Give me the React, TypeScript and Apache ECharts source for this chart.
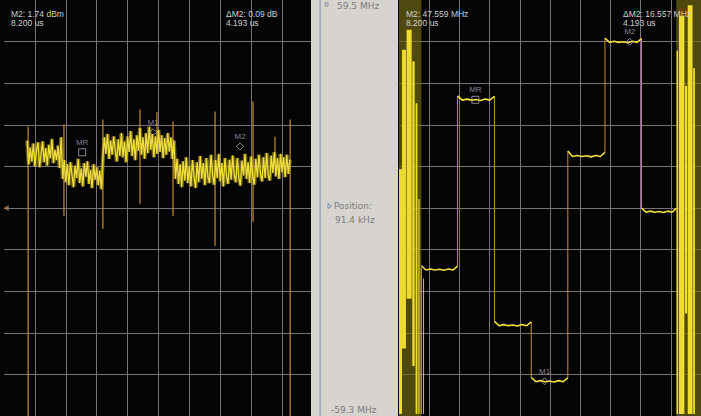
import React, { useEffect, useRef } from "react";
import * as echarts from "echarts";

// ---------- Left panel: power vs time (x and y in screen divisions) ----------
const leftTraceStart = 0.75;
const leftTraceStep = 0.05;
const leftTrace = [
  // hop A
  6.62, 6.05, 6.45, 6.12, 6.55, 6.00, 6.38, 6.58, 5.98, 6.30, 6.60, 6.10, 6.44, 6.02, 6.52, 6.20, 6.66, 6.08, 6.40, 6.15, 6.50, 5.96, 6.70,
  // hop B
  5.70, 6.15, 5.62, 6.05, 5.55, 6.10, 5.80, 5.50, 6.02, 5.72, 6.18, 5.60, 5.95, 5.52, 6.08, 5.75, 6.12, 5.58, 5.92, 5.48, 6.05, 5.68, 5.98, 5.55, 5.90, 5.45,
  // hops C
  6.20, 6.70, 6.30, 6.78, 6.18, 6.62, 6.28, 6.72, 6.40, 6.12, 6.65, 6.25, 6.80, 6.22, 6.60, 6.10, 6.72, 6.35, 6.85, 6.25, 6.65, 6.15, 6.75, 6.38, 6.92,
  6.28, 6.70, 6.18, 6.80, 6.32, 6.95, 6.40, 6.78, 6.22, 6.72, 6.30, 6.88, 6.35, 6.75, 6.20, 6.68, 6.28, 6.80, 6.36, 6.70, 6.18, 6.62,
  // hops D
  5.70, 6.18, 5.58, 6.05, 5.50, 6.12, 5.66, 6.22, 5.60, 6.00, 5.52, 6.15, 5.75, 5.48, 6.10, 5.62, 6.25, 5.70, 6.08, 5.55, 6.20, 5.74, 5.60, 6.28, 5.80,
  5.56, 6.15, 5.72, 6.30, 5.64, 6.08, 5.52, 6.20, 5.76, 5.58, 6.16, 5.68, 6.26, 5.80, 5.62, 6.20, 5.72, 5.54, 6.14, 5.78, 6.30, 5.70, 6.10, 5.60, 6.24,
  5.76, 5.56, 6.18, 5.74, 6.28, 5.82, 5.64, 6.22, 5.72, 6.32, 5.80, 5.66, 6.26, 5.84, 6.34, 5.76, 6.20, 5.70, 6.30, 5.86, 6.22, 5.74, 6.28, 5.82, 6.16,
];
// [x, top, bottom] in divisions
const leftSpikes: number[][] = [
  [0.78, 6.96, -0.3],
  [1.94, 7.01, 4.81],
  [3.2, 7.13, 4.5],
  [4.4, 7.37, 5.1],
  [4.95, 7.3, 6.41],
  [5.47, 7.08, 4.81],
  [6.83, 7.32, 4.09],
  [8.06, 7.56, 4.67],
  [8.77, 6.72, 6.05],
  [9.26, 7.13, -0.3],
];
const leftRefLevel = 5.0;

// ---------- Markers ----------
const markerNames = ["MR", "M1", "M2"];
const markerTimes = [2.53, 4.82, 7.64];
const leftMarkerLevels = [6.34, 6.82, 6.48];
const rightMarkerFreqs = [31.0, -49.4, 47.56];

// ---------- Right panel: frequency (MHz) vs time (divisions) ----------
const freqMin = -59.3;
const freqMax = 59.5;
const hopEdges = [0.74, 1.94, 3.16, 4.38, 5.59, 6.82, 8.03, 9.19];
const hopLevels: number[][] = [
  [-16.4, -17.6, -17.3, -17.6, -17.4, -17.7, -17.3, -17.6, -16.5],
  [32.1, 30.9, 31.2, 30.9, 31.1, 30.8, 31.2, 30.9, 32.0],
  [-32.3, -33.5, -33.2, -33.5, -33.3, -33.6, -33.2, -33.5, -32.4],
  [-48.3, -49.5, -49.2, -49.5, -49.3, -49.6, -49.2, -49.5, -48.4],
  [16.4, 14.8, 15.1, 14.8, 15.0, 14.7, 15.1, 14.8, 16.0],
  [48.6, 47.4, 47.7, 47.4, 47.6, 47.3, 47.7, 47.4, 48.5],
  [0.1, -1.1, -0.8, -1.1, -0.9, -1.2, -0.8, -1.1, 0.0],
];
// [x0, x1, top MHz, bottom MHz]
const burstDim: number[][] = [
  [0.0, 0.74, 59.5, -59.3],
  [9.18, 10, 59.5, -59.3],
];
const burstBright: number[][] = [
  [0.0, 0.1, 11.2, -58.7],
  [0.1, 0.23, 45.3, -40.0],
  [0.25, 0.42, 51.0, -25.8],
  [0.44, 0.52, 42.0, -45.0],
  [0.55, 0.61, 30.0, -58.7],
  [0.64, 0.68, 2.7, -58.7],
  [0.72, 0.75, -17.0, -58.7],
  [0.8, 0.83, -20.0, -58.7],
  [9.19, 9.24, 45.0, -58.7],
  [9.27, 9.45, 55.0, -58.7],
  [9.47, 9.54, 35.0, -30.0],
  [9.56, 9.72, 58.0, -58.7],
  [9.74, 9.8, 40.0, -58.7],
];

const GRID_COLOR = "#78717a";
const TRACE = "#efde3c";
const ORANGE = "#c88e2c";
const MARK_COLOR = "#aaa3b6";

function vSeg(color: string, width: number) {
  return (_p: any, api: any) => {
    const a = api.coord([api.value(0), api.value(1)]);
    const b = api.coord([api.value(0), api.value(2)]);
    return {
      type: "line",
      shape: { x1: a[0], y1: a[1], x2: b[0], y2: b[1] },
      style: { stroke: color, lineWidth: width },
    };
  };
}
function rectSeg(color: string) {
  return (_p: any, api: any) => {
    const a = api.coord([api.value(0), api.value(2)]);
    const b = api.coord([api.value(1), api.value(3)]);
    return {
      type: "rect",
      shape: { x: a[0], y: a[1], width: b[0] - a[0], height: b[1] - a[1] },
      style: { fill: color },
    };
  };
}

function buildOption() {
  const hidden = {
    axisLine: { show: false },
    axisTick: { show: false },
    axisLabel: { show: false },
  };
  const split = {
    show: true,
    showMinLine: false,
    showMaxLine: false,
    lineStyle: { color: GRID_COLOR, width: 1 },
  };
  const traceData = leftTrace.map((v, i) => [leftTraceStart + i * leftTraceStep, v]);

  const hopSeries = hopLevels.map((lv, h) => {
    const x0 = hopEdges[h];
    const x1 = hopEdges[h + 1];
    return {
      type: "line",
      xAxisIndex: 1,
      yAxisIndex: 1,
      showSymbol: false,
      symbol: "none",
      z: 4,
      lineStyle: { color: TRACE, width: 1.6 },
      data: lv.map((v, j) => [x0 + ((x1 - x0) * j) / (lv.length - 1), v]),
    };
  });
  const transitions: number[][] = [];
  for (let h = 0; h < hopLevels.length - 1; h++) {
    const a = hopLevels[h];
    const b = hopLevels[h + 1];
    transitions.push([hopEdges[h + 1], a[a.length - 1], b[0]]);
  }

  const textStyle = (text: string, size: number, fill: string, family: string) => ({
    text,
    fill,
    fontSize: size,
    fontFamily: family,
    verticalAlign: "middle",
  });
  const hdr = "Liberation Sans, Arial, sans-serif";
  const side = "DejaVu Sans, Verdana, sans-serif";
  const hdrColor = "#cfcfcf";
  const sideColor = "#7c7c82";

  return {
    animation: false,
    backgroundColor: "#040404",
    grid: [
      { left: 4, top: 0, width: 309, height: 418 },
      { left: 399, top: 0, width: 309, height: 418 },
    ],
    xAxis: [
      { type: "value", gridIndex: 0, min: 0, max: 10, interval: 1, ...hidden, splitLine: split },
      { type: "value", gridIndex: 1, min: 0, max: 10, interval: 1, ...hidden, splitLine: split },
    ],
    yAxis: [
      { type: "value", gridIndex: 0, min: 0, max: 10, interval: 1, ...hidden, splitLine: split },
      { type: "value", gridIndex: 1, min: freqMin, max: freqMax, ...hidden, splitLine: { show: false } },
      { type: "value", gridIndex: 1, min: 0, max: 10, interval: 1, ...hidden, splitLine: split },
    ],
    series: [
      {
        type: "custom",
        xAxisIndex: 0,
        yAxisIndex: 0,
        clip: true,
        z: 2,
        renderItem: vSeg(ORANGE, 1.2),
        encode: { x: 0, y: [1, 2] },
        data: leftSpikes,
      },
      {
        type: "line",
        xAxisIndex: 0,
        yAxisIndex: 0,
        showSymbol: false,
        symbol: "none",
        z: 3,
        lineStyle: { color: "rgba(190,165,35,0.55)", width: 4 },
        data: traceData,
      },
      {
        type: "line",
        xAxisIndex: 0,
        yAxisIndex: 0,
        showSymbol: false,
        symbol: "none",
        z: 4,
        lineStyle: { color: TRACE, width: 1.3 },
        data: traceData,
      },
      {
        type: "scatter",
        xAxisIndex: 0,
        yAxisIndex: 0,
        z: 6,
        symbol: "triangle",
        symbolRotate: 90,
        symbolSize: [6, 5],
        itemStyle: { color: "#a98450" },
        data: [[0.07, leftRefLevel]],
      },
      {
        type: "scatter",
        xAxisIndex: 0,
        yAxisIndex: 0,
        z: 7,
        symbolSize: 7,
        itemStyle: { color: "rgba(0,0,0,0)", borderColor: MARK_COLOR, borderWidth: 1 },
        label: { show: true, position: "top", distance: 2, formatter: "{b}", color: MARK_COLOR, fontSize: 8, fontFamily: hdr },
        data: markerNames.map((n, i) => ({
          name: n,
          value: [markerTimes[i], leftMarkerLevels[i]],
          symbol: n === "MR" ? "rect" : "diamond",
        })),
      },
      {
        type: "custom",
        xAxisIndex: 1,
        yAxisIndex: 1,
        clip: true,
        z: 1,
        renderItem: rectSeg("rgba(120,110,22,0.65)"),
        encode: { x: [0, 1], y: [2, 3] },
        data: burstDim,
      },
      {
        type: "custom",
        xAxisIndex: 1,
        yAxisIndex: 1,
        clip: true,
        z: 2,
        renderItem: rectSeg("#eedc30"),
        encode: { x: [0, 1], y: [2, 3] },
        data: burstBright,
      },
      {
        type: "custom",
        xAxisIndex: 1,
        yAxisIndex: 1,
        clip: true,
        z: 3,
        renderItem: vSeg(ORANGE, 1),
        encode: { x: 0, y: [1, 2] },
        data: transitions,
      },
      ...hopSeries,
      {
        type: "scatter",
        xAxisIndex: 1,
        yAxisIndex: 1,
        z: 7,
        symbolSize: 7,
        itemStyle: { color: "rgba(0,0,0,0)", borderColor: MARK_COLOR, borderWidth: 1 },
        label: { show: true, position: "top", distance: 2, formatter: "{b}", color: MARK_COLOR, fontSize: 8, fontFamily: hdr },
        data: markerNames.map((n, i) => ({
          name: n,
          value: [markerTimes[i], rightMarkerFreqs[i]],
          symbol: n === "MR" ? "rect" : "diamond",
        })),
      },
    ],
    graphic: [
      { type: "rect", z: 50, shape: { x: 311, y: 0, width: 87, height: 416 }, style: { fill: "#d7d3ce" } },
      { type: "rect", z: 51, shape: { x: 319.5, y: 0, width: 1.2, height: 416 }, style: { fill: "#8c9aae" } },
      { type: "rect", z: 52, shape: { x: 325, y: 3, width: 3, height: 3 }, style: { fill: "none", stroke: "#7f90aa", lineWidth: 1 } },
      { type: "text", z: 52, x: 337, y: 5.5, style: textStyle("59.5 MHz", 9, sideColor, side) },
      { type: "polygon", z: 52, shape: { points: [[328, 203.5], [331.5, 206], [328, 208.5]] }, style: { fill: "none", stroke: "#7f90aa", lineWidth: 1 } },
      { type: "text", z: 52, x: 334, y: 206, style: textStyle("Position:", 9, sideColor, side) },
      { type: "text", z: 52, x: 335, y: 220, style: textStyle("91.4 kHz", 9, sideColor, side) },
      { type: "text", z: 52, x: 331, y: 410, style: textStyle("-59.3 MHz", 9, sideColor, side) },

      { type: "text", z: 52, x: 11, y: 14, style: textStyle("M2: 1.74 dBm", 8.5, hdrColor, hdr) },
      { type: "text", z: 52, x: 11, y: 23, style: textStyle("8.200 us", 8.5, hdrColor, hdr) },
      { type: "text", z: 52, x: 226, y: 14, style: textStyle("ΔM2: 0.09 dB", 8.5, hdrColor, hdr) },
      { type: "text", z: 52, x: 226, y: 23, style: textStyle("4.193 us", 8.5, hdrColor, hdr) },
      { type: "text", z: 52, x: 406, y: 14, style: textStyle("M2: 47.559 MHz", 8.5, hdrColor, hdr) },
      { type: "text", z: 52, x: 406, y: 23, style: textStyle("8.200 us", 8.5, hdrColor, hdr) },
      { type: "text", z: 52, x: 623, y: 14, style: textStyle("ΔM2: 16.557 MHz", 8.5, hdrColor, hdr) },
      { type: "text", z: 52, x: 623, y: 23, style: textStyle("4.193 us", 8.5, hdrColor, hdr) },
    ],
  };
}

export default function App() {
  const ref = useRef<HTMLDivElement>(null);
  useEffect(() => {
    if (!ref.current) return;
    const chart = echarts.init(ref.current, undefined, { renderer: "svg" });
    chart.setOption(buildOption() as any);
    return () => chart.dispose();
  }, []);
  return (
    <div
      ref={ref}
      style={{ position: "fixed", left: 0, top: 0, width: 701, height: 416, overflow: "hidden" }}
    />
  );
}
